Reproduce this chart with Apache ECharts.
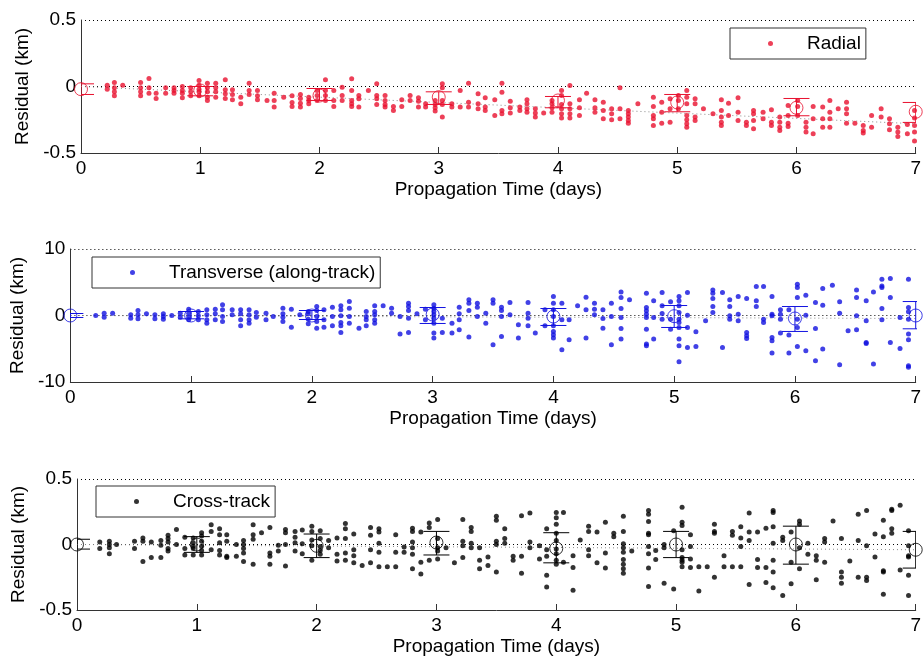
<!DOCTYPE html>
<html>
<head>
<meta charset="utf-8">
<title>Residuals vs propagation time</title>
<script src="https://cdn.jsdelivr.net/npm/echarts@6/dist/echarts.min.js"></script>
<style>
  html, body { margin: 0; padding: 0; background: #fff; }
  #chart { width: 924px; height: 657px; }
</style>
</head>
<body>
<div id="chart"></div>
<script>
// ---- Tick values ----
const dayTicks = [0, 1, 2, 3, 4, 5, 6, 7];

// ---- Radial residuals (km): sample times (days) and residuals at each time ----
const radialTimes = [0.22,0.28,0.35,0.5,0.57,0.63,0.71,0.78,0.85,0.92,0.99,1.06,1.13,1.21,1.27,1.34,1.41,1.48,1.56,1.62,1.7,1.77,1.84,1.91,1.98,2.05,2.12,2.19,2.27,2.33,2.41,2.48,2.55,2.62,2.69,2.76,2.83,2.89,2.97,3.03,3.11,3.18,3.25,3.33,3.39,3.47,3.53,3.6,3.68,3.74,3.81,3.88,3.95,4.03,4.1,4.18,4.24,4.31,4.38,4.45,4.52,4.59,4.67,4.8,4.87,4.94,5.01,5.08,5.15,5.22,5.3,5.37,5.43,5.51,5.58,5.64,5.72,5.79,5.86,5.93,6.01,6.08,6.14,6.22,6.28,6.35,6.42,6.49,6.56,6.63,6.71,6.78,6.85,6.93,6.99];
const radialResiduals = [
  [0.01,-0.02],[0.03,-0.01,-0.04,-0.07],[0.01],[0.03,-0.01,-0.04,-0.07],[0.06,-0.01,-0.05],
  [-0.05,-0.09],[-0.01,-0.05],[-0.01,-0.03,-0.05],[0,-0.03,-0.05,-0.085],[-0.01,-0.04,-0.07],
  [0.045,0.01,-0.02,-0.04,-0.07],[0.025,-0.01,-0.04,-0.08,-0.105],[0.025,-0.01,-0.04,-0.08],[0.05,-0.025,-0.055,-0.09],[-0.025,-0.06,-0.1],
  [-0.08,-0.13],[0.025,-0.03,-0.06],[-0.03,-0.07,-0.1],[-0.105],[-0.05,-0.105,-0.155],
  [-0.08],[-0.07,-0.12,-0.15],[-0.06,-0.09,-0.125,-0.155],[-0.08,-0.105,-0.13],[-0.03,-0.068,-0.105],
  [0.05,-0.03,-0.068,-0.105],[-0.03,-0.105,-0.15],[-0.005,-0.068,-0.105],[0.058,-0.03,-0.105,-0.13,-0.15],[-0.068,-0.093,-0.155],
  [-0.03],[0.02,-0.068,-0.093,-0.135],[-0.068,-0.105,-0.135,-0.155],[-0.15,-0.18],[-0.1,-0.15],
  [-0.068,-0.105],[-0.085,-0.11,-0.155],[-0.13,-0.155],[-0.105,-0.135,-0.16,-0.185],[0.02,-0.01,-0.105,-0.135,-0.23],
  [-0.13,-0.155],[-0.03,-0.155],[0.025,-0.118,-0.155],[-0.055,-0.13,-0.168],[-0.085,-0.155,-0.18],
  [-0.1,-0.218],[0.025,-0.043,-0.18,-0.205],[-0.11,-0.16,-0.2],[-0.155,-0.18],[-0.1,-0.13,-0.168,-0.193],
  [-0.168,-0.2,-0.23],[-0.2],[-0.105,-0.13,-0.16,-0.193],[-0.03,-0.068,-0.135,-0.168,-0.205,-0.236],[0.008,-0.13,-0.168,-0.205,-0.236],
  [-0.1,-0.16,-0.218],[-0.05],[-0.1,-0.16,-0.193],[-0.118,-0.18,-0.243],[-0.168,-0.205,-0.25],
  [-0.01,-0.168,-0.243],[-0.18,-0.205,-0.23,-0.256,-0.276],[-0.13],[-0.08,-0.15,-0.218,-0.243,-0.293],[-0.118,-0.193,-0.276],
  [-0.093,-0.168,-0.268],[-0.068,-0.105,-0.168],[-0.03,-0.08,-0.13,-0.218,-0.25,-0.28,-0.306],[-0.093,-0.13,-0.23,-0.256],[-0.168],
  [-0.205],[-0.1,-0.18,-0.23,-0.268,-0.293],[-0.125,-0.218],[-0.085,-0.193,-0.256],[-0.268,-0.293],
  [-0.18,-0.205,-0.256,-0.318],[-0.193,-0.243],[-0.175,-0.268,-0.293],[-0.23,-0.268,-0.306,-0.33],[-0.143,-0.218,-0.276,-0.3],
  [-0.105,-0.15,-0.218],[-0.268,-0.306,-0.343],[-0.15,-0.243,-0.356],[-0.155,-0.243,-0.306],[-0.105,-0.193,-0.243,-0.306],
  [-0.168],[-0.118,-0.168,-0.205,-0.276],[-0.276],[-0.293,-0.33,-0.35],[-0.218,-0.306],
  [-0.168,-0.23],[-0.243,-0.28,-0.326],[-0.306,-0.343,-0.376],[-0.286,-0.356],[-0.18,-0.236,-0.293,-0.343,-0.41]
];
// daily mean and spread of the radial residuals
const radialMean = [-0.02, -0.03, -0.068, -0.08, -0.105, -0.12, -0.16, -0.19];
const radialLow  = [-0.06, -0.07, -0.105, -0.135, -0.16, -0.19, -0.22, -0.27];
const radialHigh = [0.02, 0.0, -0.015, -0.04, -0.075, -0.06, -0.09, -0.12];
const radialTrend = [0, -0.28];   // fitted drift at day 0 and day 7

// ---- Transverse (along-track) residuals (km) ----
const transverseTimes = [0.21,0.28,0.35,0.5,0.56,0.63,0.7,0.77,0.84,0.91,0.98,1.06,1.13,1.2,1.26,1.34,1.41,1.48,1.54,1.62,1.68,1.76,1.83,1.9,1.97,2.04,2.1,2.17,2.24,2.31,2.39,2.45,2.52,2.59,2.66,2.73,2.8,2.87,2.94,3.01,3.08,3.16,3.22,3.3,3.37,3.44,3.5,3.57,3.64,3.71,3.79,3.85,3.93,4.0,4.07,4.13,4.2,4.27,4.34,4.41,4.48,4.56,4.63,4.77,4.83,4.9,4.97,5.04,5.11,5.18,5.26,5.32,5.4,5.46,5.53,5.6,5.68,5.74,5.81,5.88,5.95,6.02,6.09,6.17,6.23,6.31,6.37,6.44,6.51,6.59,6.65,6.72,6.79,6.87,6.94];
const transverseResiduals = [
  [0],[0.35,-0.25],[0.35],[0.1,-0.4],[0.75,0.1,-0.5],
  [0.25],[0.1,-0.5],[0.25,-0.15,-0.55],[0],[0.35,-0.25],
  [0.95,0.35,-0.25,-0.65],[0.6,-0.05,-0.65],[0.85,0.1,-0.65,-1.15],[0.95,0.25,-0.65],[1.6,0.85,-0.15,-0.9],
  [0.85,0.1],[0.85,0.25,-0.65,-1.55],[0.85,0.1,-0.65,-1.15],[0.45,-0.25],[0.35,-0.65],
  [-0.15],[1.1,0.25,-0.25,-0.9],[0.95,-1.75],[0.1],[0.6,0.25,-0.55,-1.25],
  [1.35,0.75,-0.15,-0.9,-1.9],[0.85,-0.65,-1.75],[1.25,-0.15,-1.55],[1.45,0.85,-0.05,-1.05,-1.55,-2.55],[2.1,1.1,-0.15,-1.15],
  [-1.9],[0.6,-0.15,-0.65,-1.55],[1.45,0.6,0.1,-0.65,-1.15],[1.45],[1.1,0.35],
  [-0.15,-2.8],[1.85,1.35,0.75,-0.4,-2.55],[0.25],[0.95,-0.65],[1.6,1.1,0.6,0.1,-0.4,-1.15,-2.65,-3.4],
  [-0.4,-2.55],[-1.15,-2.65],[1.25,0.25,-0.65,-2.15],[2.35,1.85,0.75,-3.25],[1.85,1.25,-0.15],
  [0.35,-1.15],[2.35,1.85,-4.4],[1.25,0.75,-0.15,-3.15],[1.95,0.1],[-1.4,-3.4],
  [1.95,0.35,-0.4,-1.55],[-2.65],[0.85,-1.55],[2.85,1.85,0.85,-0.15,-1.55,-2.4,-2.9,-3.4],[1.85,-0.65,-5.15],
  [-0.65,-3.65],[1.45],[2.75,0.85,-3.4],[1.85,0.95,0.1],[0.85,-0.45,-1.9],
  [1.85,-0.15,-4.4],[3.55,2.7,1.05,-0.3,-1.95,-3.55],[2.35],[3.35,1.2,0.7,0.2,-0.3,-2.05,-4.3,-4.55],[2.2,-0.3,-3.55],
  [3.45,1.45,0.3,-0.55],[2.05,-0.55,-2.05],[2.85,2.2,1.45,0.45,-0.55,-1.05,-1.8,-3.55,-4.55,-6.95],[3.45,0.05,-1.8,-4.8],[-2.45,-4.65],
  [-0.8],[3.85,3.35,2.55,1.35,0.45],[3.45,-4.8],[2.35,1.35,-0.05,-0.55],[2.85,0.2,-0.8],
  [2.55,-2.55,-3.05,-3.45],[4.35,2.2,1.35],[4.35,-0.55,-1.05],[2.85,0.2,-0.05,-3.3,-3.8,-5.65],[0.85,0.2,-0.55,-2.65],
  [0.85,-2.95,-5.65],[4.7,4.2,2.7,-0.55,-1.8,-4.65],[3.05,0.05,-5.3],[1.95,-1.95,-6.8],[4.05,1.55,-5.05],
  [4.55],[2.05,0.35,-7.4],[-2.3],[3.85,2.7,-0.05,-2.15],[2.2,-0.8,-4.05,-4.2],
  [3.55,-7.3],[5.45,4.45,4.2,1.05,-0.65],[5.55,2.7,-4.05],[-0.3,-4.95],[5.45,1.2,0.55,-0.55,-2.8,-3.65,-7.55,-7.8]
];
const transverseMean = [0, 0, 0, 0.15, -0.15, -0.1, -0.45, 0];
const transverseLow  = [-0.3, -0.5, -0.6, -1.2, -1.5, -1.8, -2.4, -2.0];
const transverseHigh = [0.3, 0.6, 0.75, 1.2, 1.05, 1.5, 1.35, 2.1];
const transverseTrend = [0, -0.45];

// ---- Cross-track residuals (km) ----
const crossTimes = [0.19,0.27,0.33,0.48,0.55,0.62,0.7,0.76,0.83,0.9,0.97,1.04,1.12,1.19,1.25,1.33,1.39,1.47,1.54,1.61,1.68,1.74,1.82,1.88,1.96,2.03,2.1,2.17,2.24,2.31,2.38,2.45,2.52,2.59,2.66,2.73,2.8,2.87,2.94,3.01,3.08,3.15,3.22,3.29,3.36,3.43,3.5,3.57,3.64,3.71,3.78,3.86,3.92,4.0,4.06,4.14,4.2,4.27,4.34,4.41,4.48,4.56,4.63,4.77,4.83,4.9,4.98,5.05,5.12,5.19,5.26,5.32,5.4,5.47,5.54,5.61,5.68,5.75,5.81,5.89,5.96,6.03,6.1,6.17,6.24,6.31,6.38,6.45,6.52,6.59,6.66,6.73,6.8,6.87,6.94];
const crossResiduals = [
  [0.02,-0.03],[0.025,0,-0.025,-0.07],[0],[0.025,-0.03],[0.05,0.025,-0.13],
  [0.02,-0.1],[0.03,-0.005,-0.1],[0.07,0.045,0.02,-0.03,-0.05],[0.115,0],[0.055,-0.03,-0.08],
  [0.05,0.013,-0.013,-0.03,-0.08],[0.09,0.065,0.025,-0.013,-0.045,-0.08],[0.15,0.1,-0.04],[0.12,0.075,0.013,-0.045,-0.08],[0.075,0.025,-0.09,-0.1],
  [0,-0.09],[0.03,0,-0.03,-0.065,-0.13],[0.15,0.075,0.04,-0.15],[0.09],[0.13,-0.065,-0.09,-0.15],
  [-0.005,-0.05],[0.115,0.09,0,-0.165],[0.1,0.055,0.013,-0.05],[0.11,0.005,-0.07],[0.14,0.1,0.035,-0.01,-0.12],
  [0.105,0.045,-0.015,-0.045,-0.075],[0.03,-0.025],[0.05,-0.075,-0.125],[0.16,0.12,0.045,-0.065,-0.12],[0.08,-0.04,-0.085,-0.14],
  [-0.16],[0.13,0.07,-0.04,-0.14],[0.12,0.095,0.01,-0.06,-0.17],[-0.17],[0.075,-0.06,-0.17],
  [-0.02,-0.06],[0.125,0.1,0.02,-0.025,-0.075,-0.185],[0.095,-0.135,-0.225],[0.165,0.13,-0.12],[0.19,0.045,-0.025,-0.05,-0.11],
  [-0.025],[-0.14],[0.19,0.025,-0.01,-0.1],[0.13,0.1,0.01,-0.025],[-0.025,-0.12,-0.185],
  [-0.095,-0.16],[0.215,0.185,0.025,0,-0.21],[0.12,0.045,0.01],[-0.09,-0.12],[0.22,-0.09,-0.22],
  [0.24,0.02,-0.025],[-0.01,-0.11],[0.12,-0.04,-0.09,-0.235,-0.325],[0.245,0.205,0.155,0.085,0.03,-0.035,-0.07,-0.12,-0.15],[0.245,-0.135],
  [-0.085,-0.175,-0.35],[0.035],[0.14,0.1,-0.04,-0.085],[0.095,-0.14],[0.17,-0.065,-0.18],
  [0.085,0.06],[0.215,0.1,0.005,-0.025,-0.06,-0.115,-0.15,-0.185,-0.22],[-0.05],[0.26,0.23,0.175,0.085,0.075,-0.015,-0.07,-0.18,-0.32],[-0.045,-0.115],
  [0,-0.025,-0.295],[0.105,-0.34],[0.285,0.17,0.145,-0.04,-0.1,-0.12,-0.135,-0.17],[0.075,-0.015,-0.11,-0.175],[-0.17,-0.355],
  [-0.17],[0.155,0.1,0.085,-0.25],[-0.085,-0.17],[0.1,0.07,-0.17],[0.135,0.05,-0.015,-0.17],
  [0.24,0.095,0.03,-0.305],[0.095,-0.115,-0.175],[0.125,-0.175,-0.29],[0.26,0.245,0.135,0.01,-0.12,-0.21,-0.33],[0.055,0.03,-0.39],
  [0.095,-0.135,-0.3],[0.18,0.155,-0.025,-0.185],[0.01,-0.075],[-0.085,-0.12,-0.27],[0.045,0.02,-0.135],
  [0.18],[0.045,-0.21,-0.25,-0.295],[-0.125],[0.23,0.03,-0.25],[0.26,-0.01,-0.25,-0.275],
  [0.08,-0.095],[0.185,0.06,-0.2,-0.21,-0.38],[0.27,0.26,0.12,0.085],[0.3,-0.195],[0.105,-0.01,-0.085,-0.095,-0.235,-0.39]
];
const crossMean = [0, 0, -0.01, 0.015, -0.03, 0, 0, -0.04];
const crossLow  = [-0.035, -0.06, -0.1, -0.08, -0.14, -0.1, -0.15, -0.18];
const crossHigh = [0.04, 0.06, 0.08, 0.1, 0.09, 0.1, 0.14, 0.1];
const crossTrend = [0, -0.04];

// ---- helpers ----
const FONT = '"Liberation Sans", Arial, Helvetica, sans-serif';

function flatten(times, groups) {
  const pts = [];
  const n = Math.min(times.length, groups.length);
  for (let i = 0; i < n; i++) {
    for (const v of groups[i]) pts.push([times[i], v]);
  }
  return pts;
}

// vertical bar with end caps, drawn from [day, low, high]
function errorBarItem(params, api) {
  const x = api.value(0);
  const top = api.coord([x, api.value(2)]);
  const bot = api.coord([x, api.value(1)]);
  const cap = 13;
  const style = { stroke: api.visual('color'), lineWidth: 1, fill: null };
  return {
    type: 'group',
    children: [
      { type: 'line', shape: { x1: top[0], y1: top[1], x2: bot[0], y2: bot[1] }, style },
      { type: 'line', shape: { x1: top[0] - cap, y1: top[1], x2: top[0] + cap, y2: top[1] }, style },
      { type: 'line', shape: { x1: bot[0] - cap, y1: bot[1], x2: bot[0] + cap, y2: bot[1] }, style }
    ]
  };
}

const panels = [
  { name: 'Radial', color: '#e8102e', times: radialTimes, res: radialResiduals,
    mean: radialMean, low: radialLow, high: radialHigh, trend: radialTrend,
    min: -0.5, max: 0.5, interval: 0.5,
    grid: { left: 81, right: 3, top: 20, height: 133 }, nameGap: 46,
    legend: { left: 730, top: 28 } },
  { name: 'Transverse (along-track)', color: '#1212e0', times: transverseTimes, res: transverseResiduals,
    mean: transverseMean, low: transverseLow, high: transverseHigh, trend: transverseTrend,
    min: -10, max: 10, interval: 10,
    grid: { left: 70, right: 8, top: 249, height: 133 }, nameGap: 41,
    legend: { left: 92, top: 257 } },
  { name: 'Cross-track', color: '#000000', times: crossTimes, res: crossResiduals,
    mean: crossMean, low: crossLow, high: crossHigh, trend: crossTrend,
    min: -0.5, max: 0.5, interval: 0.5,
    grid: { left: 77, right: 3, top: 479, height: 131 }, nameGap: 48,
    legend: { left: 96, top: 486 } }
];

const grids = [], xAxes = [], yAxes = [], series = [], legends = [];

panels.forEach((p, i) => {
  grids.push(p.grid);
  xAxes.push({
    gridIndex: i, type: 'value', min: dayTicks[0], max: dayTicks[dayTicks.length - 1], interval: 1,
    name: 'Propagation Time (days)', nameLocation: 'middle', nameGap: 27,
    nameTextStyle: { fontSize: 19, fontFamily: FONT, color: '#000' },
    axisLine: { onZero: false, lineStyle: { color: '#333', width: 1 } },
    axisTick: { inside: true, length: 6, lineStyle: { color: '#333' } },
    axisLabel: { fontSize: 19, fontFamily: FONT, color: '#000', margin: 6 },
    splitLine: { show: false }
  });
  yAxes.push({
    gridIndex: i, type: 'value', min: p.min, max: p.max, interval: p.interval,
    name: 'Residual (km)', nameLocation: 'middle', nameGap: p.nameGap,
    nameTextStyle: { fontSize: 19, fontFamily: FONT, color: '#000' },
    axisLine: { show: true, onZero: false, lineStyle: { color: '#333', width: 1 } },
    axisTick: { show: false },
    axisLabel: { fontSize: 19, fontFamily: FONT, color: '#000', margin: 5 },
    splitLine: { show: true, lineStyle: { color: '#000', width: 1, type: [1, 3] } }
  });
  series.push({
    name: p.name, type: 'scatter', xAxisIndex: i, yAxisIndex: i,
    symbol: 'circle', symbolSize: 5,
    itemStyle: { color: p.color },
    data: flatten(p.times, p.res), z: 3
  });
  series.push({
    name: p.name + ' trend', type: 'line', xAxisIndex: i, yAxisIndex: i,
    data: [[dayTicks[0], p.trend[0]], [dayTicks[dayTicks.length - 1], p.trend[1]]],
    showSymbol: false, symbol: 'none',
    lineStyle: { color: '#8a8a8a', width: 1, type: [1, 3] }, z: 2, silent: true
  });
  series.push({
    name: p.name + ' spread', type: 'custom', xAxisIndex: i, yAxisIndex: i,
    renderItem: errorBarItem, clip: true,
    itemStyle: { color: p.color },
    encode: { x: 0, y: [1, 2] },
    data: dayTicks.map((d, k) => [d, p.low[k], p.high[k]]), z: 4, silent: true
  });
  series.push({
    name: p.name + ' mean', type: 'scatter', xAxisIndex: i, yAxisIndex: i,
    symbol: 'circle', symbolSize: 13, clip: false,
    itemStyle: { color: 'rgba(0,0,0,0)', borderColor: p.color, borderWidth: 1 },
    data: dayTicks.map((d, k) => [d, p.mean[k]]), z: 5, silent: true
  });
  legends.push({
    data: [p.name], left: p.legend.left, top: p.legend.top,
    orient: 'horizontal', icon: 'circle', itemWidth: 5, itemHeight: 5,
    padding: [6, 5, 6, 38], borderColor: '#333', borderWidth: 1,
    backgroundColor: '#fff',
    itemStyle: { color: p.color },
    textStyle: { fontSize: 19, fontFamily: FONT, color: '#000', padding: [0, 0, 0, 29] },
    selectedMode: false
  });
});

const chart = echarts.init(document.getElementById('chart'), null, { renderer: 'canvas' });
chart.setOption({
  backgroundColor: '#fff',
  animation: false,
  grid: grids, xAxis: xAxes, yAxis: yAxes, legend: legends, series
});
</script>
</body>
</html>
